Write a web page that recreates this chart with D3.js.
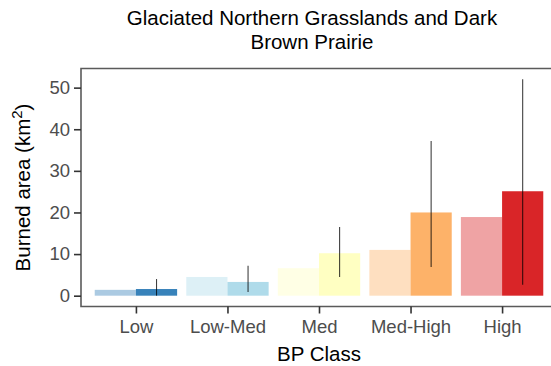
<!DOCTYPE html>
<html>
<head>
<meta charset="utf-8">
<script src="https://cdn.jsdelivr.net/npm/d3@7"></script>
<style>
  body { margin: 0; background: #fff; }
  svg { display: block; font-family: "Liberation Sans", Arial, sans-serif; }
</style>
</head>
<body>
<div id="chart"></div>
<script>
// Datos
const classes = ['Low', 'Low-Med', 'Med', 'Med-High', 'High'];
const expectedArea = [1.4, 4.5, 6.6, 11.0, 18.9];   // barra clara (izquierda)
const observedArea = [1.6, 3.3, 10.2, 20.0, 25.1];  // barra oscura (derecha)
const errLow = [0, 0.9, 4.5, 6.9, 2.6];
const errHigh = [4.0, 7.2, 16.5, 37.2, 52.0];
const classColors = ['#2c7bb6', '#abd9e9', '#ffffbf', '#fdae61', '#d7191c'];
const yTicks = [0, 10, 20, 30, 40, 50];

const W = 551, H = 366;
const panel = { left: 81, top: 68.5, right: 557, bottom: 306.5 };

const svg = d3.select('#chart').append('svg')
    .attr('width', W).attr('height', H);

const x = d3.scalePoint()
    .domain(classes)
    .range([panel.left, panel.right])
    .padding(0.6);
const step = x.step();
const barW = step * 0.45;

const y = d3.scaleLinear()
    .domain([-2.6, 54.6])
    .range([panel.bottom, panel.top]);

// Barras
const rows = classes.map((c, i) => ({
    cls: c, exp: expectedArea[i], obs: observedArea[i],
    lo: errLow[i], hi: errHigh[i], color: classColors[i]
}));

svg.selectAll('.bar-exp')
    .data(rows)
    .join('rect')
    .attr('x', d => x(d.cls) - barW)
    .attr('y', d => y(d.exp))
    .attr('width', barW)
    .attr('height', d => y(0) - y(d.exp))
    .attr('fill', d => d.color)
    .attr('fill-opacity', 0.4);

svg.selectAll('.bar-obs')
    .data(rows)
    .join('rect')
    .attr('x', d => x(d.cls))
    .attr('y', d => y(d.obs))
    .attr('width', barW)
    .attr('height', d => y(0) - y(d.obs))
    .attr('fill', d => d.color)
    .attr('fill-opacity', 0.95);

// Barras de error
svg.selectAll('.err')
    .data(rows)
    .join('line')
    .attr('x1', d => x(d.cls) + barW / 2)
    .attr('x2', d => x(d.cls) + barW / 2)
    .attr('y1', d => y(d.lo))
    .attr('y2', d => y(d.hi))
    .attr('stroke', '#000')
    .attr('stroke-opacity', 0.75)
    .attr('stroke-width', 1.1);

// Borde del panel
const border = '#5a5a5a';
svg.append('path')
    .attr('d', `M${panel.right},${panel.top}H${panel.left}V${panel.bottom}H${panel.right}`)
    .attr('fill', 'none')
    .attr('stroke', border)
    .attr('stroke-width', 1.6);

// Ejes
const yAxis = svg.append('g')
    .attr('transform', `translate(${panel.left},0)`)
    .call(d3.axisLeft(y).tickValues(yTicks).tickSize(7).tickPadding(4));
const xAxis = svg.append('g')
    .attr('transform', `translate(0,${panel.bottom})`)
    .call(d3.axisBottom(x).tickSize(7).tickPadding(6));

[yAxis, xAxis].forEach(g => {
    g.select('.domain').remove();
    g.selectAll('.tick line').attr('stroke', '#333').attr('stroke-width', 1.6);
    g.selectAll('.tick text')
        .attr('fill', '#4d4d4d')
        .attr('font-size', '18.5px')
        .attr('font-family', '"Liberation Sans", Arial, sans-serif');
});

// Títulos
const title = svg.append('text')
    .attr('text-anchor', 'middle')
    .attr('font-size', '20.5px')
    .attr('fill', '#000');
title.append('tspan').attr('x', 312).attr('y', 25).text('Glaciated Northern Grasslands and Dark');
title.append('tspan').attr('x', 312).attr('y', 49).text('Brown Prairie');

svg.append('text')
    .attr('x', 319).attr('y', 361)
    .attr('text-anchor', 'middle')
    .attr('font-size', '20.5px')
    .attr('fill', '#000')
    .text('BP Class');

const yLab = svg.append('text')
    .attr('transform', `translate(30,${(panel.top + panel.bottom) / 2}) rotate(-90)`)
    .attr('text-anchor', 'middle')
    .attr('font-size', '20.5px')
    .attr('fill', '#000');
yLab.append('tspan').text('Burned area (km');
yLab.append('tspan').attr('font-size', '15px').attr('dy', -8).text('2');
yLab.append('tspan').attr('dy', 8).text(')');
</script>
</body>
</html>
